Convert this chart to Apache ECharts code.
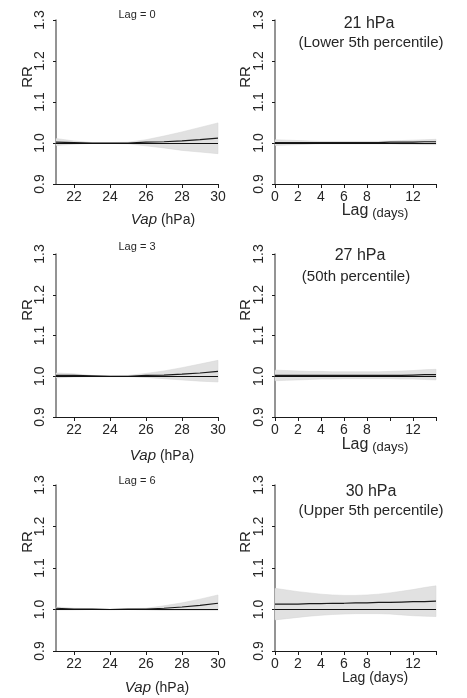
<!DOCTYPE html>
<html>
<head>
<meta charset="utf-8">
<script src="https://cdn.jsdelivr.net/npm/echarts@6/dist/echarts.min.js"></script>
<style>
html,body{margin:0;padding:0;background:#fff;}
#c{width:467px;height:698px;}
</style>
</head>
<body>
<div id="c"></div>
<script>
// ---------- data ----------
const vap = [21, 22, 23, 24, 25, 26, 27, 28, 29, 30];
const lagDays = [0, 1, 2, 3, 4, 5, 6, 7, 8, 9, 10, 11, 12, 13, 14];

const vapTicks = [22, 24, 26, 28, 30];
const lagTicks = [0, 2, 4, 6, 8, 10, 12, 14];
const lagTickLabels = [0, 2, 4, 6, 8, 12];
const rrTicks = [0.9, 1.0, 1.1, 1.2, 1.3];

// Lag = 0
const rrLag0 = [1.002, 1.001, 1.000, 1.000, 1.000, 1.002, 1.003, 1.005, 1.008, 1.012];
const hiLag0 = [1.011, 1.005, 1.001, 1.001, 1.002, 1.008, 1.017, 1.027, 1.038, 1.049];
const loLag0 = [0.994, 0.997, 0.999, 0.999, 0.998, 0.993, 0.988, 0.982, 0.978, 0.974];
// Lag = 3
const rrLag3 = [1.002, 1.002, 1.001, 1.000, 1.000, 1.002, 1.003, 1.005, 1.008, 1.012];
const hiLag3 = [1.008, 1.006, 1.002, 1.001, 1.002, 1.007, 1.013, 1.021, 1.030, 1.039];
const loLag3 = [0.996, 0.998, 0.999, 0.999, 0.999, 0.997, 0.994, 0.991, 0.988, 0.986];
// Lag = 6
const rrLag6 = [1.003, 1.001, 1.001, 1.000, 1.001, 1.001, 1.003, 1.006, 1.010, 1.015];
const hiLag6 = [1.006, 1.003, 1.002, 1.001, 1.002, 1.003, 1.009, 1.016, 1.025, 1.035];
const loLag6 = [0.999, 0.999, 1.000, 0.999, 1.000, 0.999, 0.998, 0.998, 0.998, 0.998];

// 21 hPa
const rr21 = [1.001, 1.001, 1.001, 1.001, 1.001, 1.001, 1.001, 1.001, 1.001, 1.001, 1.002, 1.002, 1.002, 1.003, 1.003];
const hi21 = [1.008, 1.007, 1.006, 1.005, 1.004, 1.004, 1.004, 1.004, 1.004, 1.004, 1.005, 1.006, 1.007, 1.008, 1.009];
const lo21 = [0.994, 0.995, 0.996, 0.997, 0.998, 0.998, 0.998, 0.998, 0.998, 0.998, 0.998, 0.997, 0.997, 0.996, 0.996];
// 27 hPa
const rr27 = [1.002, 1.002, 1.002, 1.002, 1.002, 1.002, 1.002, 1.002, 1.002, 1.002, 1.002, 1.002, 1.003, 1.004, 1.004];
const hi27 = [1.015, 1.014, 1.013, 1.012, 1.012, 1.011, 1.011, 1.011, 1.011, 1.011, 1.012, 1.013, 1.014, 1.016, 1.017];
const lo27 = [0.989, 0.990, 0.991, 0.992, 0.993, 0.993, 0.994, 0.994, 0.994, 0.994, 0.994, 0.993, 0.993, 0.992, 0.991];
// 30 hPa
const rr30 = [1.013, 1.013, 1.013, 1.014, 1.014, 1.015, 1.015, 1.016, 1.016, 1.017, 1.017, 1.018, 1.019, 1.019, 1.020];
const hi30 = [1.051, 1.047, 1.043, 1.040, 1.037, 1.035, 1.034, 1.034, 1.035, 1.037, 1.040, 1.044, 1.048, 1.053, 1.057];
const lo30 = [0.975, 0.978, 0.981, 0.984, 0.986, 0.988, 0.989, 0.990, 0.990, 0.990, 0.989, 0.987, 0.985, 0.984, 0.983];

// ---------- layout ----------
const panels = [
  { x: vap,     rr: rrLag0, hi: hiLag0, lo: loLag0, kind: 'vap', grid: { left: 56,  top: 20,  width: 162, height: 164 } },
  { x: lagDays, rr: rr21,   hi: hi21,   lo: lo21,   kind: 'lag', grid: { left: 275, top: 20,  width: 161, height: 164 } },
  { x: vap,     rr: rrLag3, hi: hiLag3, lo: loLag3, kind: 'vap', grid: { left: 56,  top: 254, width: 162, height: 163 } },
  { x: lagDays, rr: rr27,   hi: hi27,   lo: lo27,   kind: 'lag', grid: { left: 275, top: 254, width: 161, height: 163 } },
  { x: vap,     rr: rrLag6, hi: hiLag6, lo: loLag6, kind: 'vap', grid: { left: 56,  top: 485, width: 162, height: 166 } },
  { x: lagDays, rr: rr30,   hi: hi30,   lo: lo30,   kind: 'lag', grid: { left: 275, top: 485, width: 161, height: 166 } }
];

const FONT = '"Liberation Sans", Arial, sans-serif';
const TXT = '#262626';

const grid = [], xAxis = [], yAxis = [], series = [];
panels.forEach((p, i) => {
  grid.push(Object.assign({ containLabel: false }, p.grid));
  const isVap = p.kind === 'vap';
  xAxis.push({
    type: 'value', gridIndex: i,
    min: isVap ? 21 : 0, max: isVap ? 30 : 14,
    axisLine: { show: true, onZero: false, lineStyle: { color: '#1a1a1a', width: 1 } },
    axisTick: { show: true, length: 4, inside: false, customValues: isVap ? vapTicks : lagTicks, lineStyle: { color: '#1a1a1a' } },
    axisLabel: { show: true, margin: 6, fontSize: 14, fontFamily: FONT, color: TXT, customValues: isVap ? vapTicks : lagTickLabels, hideOverlap: false },
    splitLine: { show: false }
  });
  yAxis.push({
    type: 'value', gridIndex: i, min: 0.9, max: 1.3,
    axisLine: { show: true, onZero: false, lineStyle: { color: '#707070', width: 1.5 } },
    axisTick: { show: true, length: 3, customValues: rrTicks, lineStyle: { color: '#1a1a1a' } },
    axisLabel: { show: true, rotate: 90, margin: 9, fontSize: 14, fontFamily: FONT, color: TXT,
      customValues: rrTicks, formatter: v => v.toFixed(1) },
    splitLine: { show: false }
  });
  // confidence band: one polygon through the upper then lower bounds
  series.push({
    type: 'custom', xAxisIndex: i, yAxisIndex: i, silent: true, z: 1,
    data: p.x.map((x, k) => [x, p.lo[k], p.hi[k]]),
    encode: { x: 0, y: [1, 2] },
    renderItem: function (params, api) {
      if (params.dataIndex !== 0) return null;
      const up = p.x.map((x, k) => api.coord([x, p.hi[k]]));
      const dn = p.x.map((x, k) => api.coord([x, p.lo[k]])).reverse();
      return { type: 'polygon', shape: { points: up.concat(dn) }, style: { fill: '#e1e1e1', stroke: '#d4d4d4', lineWidth: 0.5 } };
    }
  });
  series.push({
    type: 'line', xAxisIndex: i, yAxisIndex: i, data: p.x.map((x, k) => [x, p.rr[k]]),
    symbol: 'none', lineStyle: { color: '#1a1a1a', width: 1.2 }, silent: true, z: 3,
    markLine: { silent: true, symbol: 'none', label: { show: false },
      lineStyle: { color: '#111', width: 1, type: 'solid' }, data: [{ yAxis: 1 }] }
  });
});

function txt(x, y, text, size, opts) {
  return Object.assign({
    type: 'text', x: x, y: y, z: 100,
    style: Object.assign({ text: text, fontSize: size, fontFamily: FONT, fill: TXT,
      align: 'center', verticalAlign: 'middle', textAlign: 'center', textVerticalAlign: 'middle' }, (opts && opts.style) || {})
  }, (opts && opts.el) || {});
}
const rot = { el: { rotation: Math.PI / 2 } };
const vapRich = { style: { rich: { i: { fontStyle: 'italic', fontSize: 15, fontFamily: FONT, fill: TXT }, n: { fontSize: 14, fontFamily: FONT, fill: TXT } } } };
const lagRich = { style: { rich: { l: { fontSize: 16, fontFamily: FONT, fill: TXT }, d: { fontSize: 13, fontFamily: FONT, fill: TXT, padding: [4, 0, 0, 0] } } } };

const graphic = [
  // y-axis titles
  txt(28, 77, 'RR', 15, rot), txt(246, 77, 'RR', 15, rot),
  txt(28, 310, 'RR', 15, rot), txt(246, 310, 'RR', 15, rot),
  txt(28, 542, 'RR', 15, rot), txt(246, 542, 'RR', 15, rot),
  // left panel titles
  txt(137, 15, 'Lag = 0', 11), txt(137, 247, 'Lag = 3', 11), txt(137, 481, 'Lag = 6', 11),
  // right panel titles
  txt(369, 24, '21 hPa', 16), txt(371, 43, '(Lower 5th percentile)', 15),
  txt(360, 256, '27 hPa', 16), txt(356, 277, '(50th percentile)', 15),
  txt(371, 492, '30 hPa', 16), txt(371, 511, '(Upper 5th percentile)', 15),
  // x-axis titles
  txt(163, 220, '{i|Vap} {n|(hPa)}', 14, vapRich),
  txt(162, 456, '{i|Vap} {n|(hPa)}', 14, vapRich),
  txt(157, 688, '{i|Vap} {n|(hPa)}', 14, vapRich),
  txt(375, 211, '{l|Lag} {d|(days)}', 14, lagRich),
  txt(375, 445, '{l|Lag} {d|(days)}', 14, lagRich),
  txt(375, 678, 'Lag (days)', 14)
];

const chart = echarts.init(document.getElementById('c'), null, { renderer: 'canvas' });
chart.setOption({
  animation: false,
  backgroundColor: '#ffffff',
  grid: grid, xAxis: xAxis, yAxis: yAxis, series: series, graphic: graphic
});
</script>
</body>
</html>
